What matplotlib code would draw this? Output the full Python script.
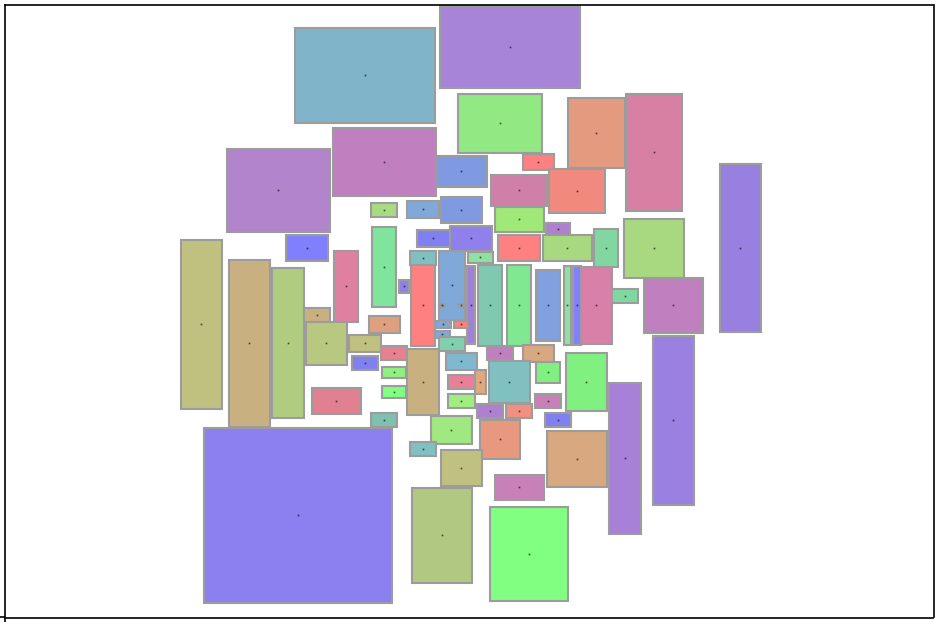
import matplotlib
matplotlib.use("Agg")
import matplotlib.pyplot as plt
import matplotlib.colors as mcolors
from matplotlib.patches import Rectangle

# rectangles (left, top, width, height in picture units)
lefts = [295, 440, 458, 568, 626, 333, 227, 436, 523, 491, 549, 720, 371, 407, 441,
         495, 286, 417, 450, 546, 498, 543, 594, 624, 372, 334, 410, 399, 411, 439,
         468, 467, 478, 507, 536, 564, 573, 581, 612, 644, 181, 229, 272, 304, 306,
         349, 352, 369, 381, 382, 382, 407, 312, 371, 439, 458, 454, 435, 435, 439,
         446, 448, 448, 475, 487, 523, 489, 536, 566, 477, 506, 535, 545, 609, 653,
         431, 410, 480, 441, 547, 495, 412, 490, 204]
tops = [28, 6, 94, 98, 94, 128, 149, 156, 154, 175, 169, 164, 203, 201, 197,
        207, 235, 230, 226, 223, 235, 235, 229, 219, 227, 251, 251, 280, 265, 251,
        252, 266, 265, 265, 270, 266, 266, 267, 289, 278, 240, 260, 268, 308, 322,
        335, 356, 316, 346, 367, 386, 349, 388, 413, 304, 304, 321, 321, 331, 337,
        353, 375, 394, 370, 346, 345, 361, 362, 353, 404, 404, 394, 413, 383, 336,
        416, 442, 420, 450, 431, 475, 488, 507, 428]
widths = [140, 140, 84, 57, 56, 103, 103, 51, 31, 56, 56, 41, 26, 32, 41,
          49, 42, 33, 42, 24, 42, 49, 24, 60, 24, 24, 26, 10, 24, 26,
          25, 8, 24, 24, 24, 7, 8, 31, 26, 59, 41, 41, 32, 26, 41,
          32, 26, 31, 26, 24, 24, 32, 49, 26, 6, 6, 14, 16, 15, 26,
          31, 27, 27, 11, 26, 31, 41, 24, 41, 26, 26, 26, 26, 32, 41,
          41, 26, 40, 41, 60, 49, 60, 78, 188]
heights = [95, 82, 59, 70, 117, 68, 83, 31, 16, 31, 44, 168, 14, 17, 26,
           25, 26, 17, 25, 12, 26, 26, 38, 59, 80, 71, 14, 13, 81, 69,
           11, 78, 81, 81, 71, 79, 79, 77, 14, 55, 169, 167, 150, 14, 43,
           17, 14, 17, 14, 11, 12, 66, 26, 14, 3, 3, 7, 7, 7, 14,
           17, 14, 14, 24, 14, 17, 42, 21, 58, 14, 14, 14, 14, 151, 169,
           28, 14, 39, 36, 56, 25, 95, 94, 175]
colors = ["#80B4C8", "#A884D8", "#92E882", "#E39A7E", "#D880A4", "#C080C0", "#B184CB",
          "#7F9AE0", "#FF8080", "#D080A8", "#F2897E", "#9880E0", "#A8DC80", "#80A8D8",
          "#7F9AE0", "#A0E878", "#8080FF", "#8080F2", "#9080EC", "#B080D0", "#FF8080",
          "#A8D880", "#80D8A0", "#A8D880", "#80E49C", "#E080A0", "#80C0C0", "#9080E8",
          "#FF8080", "#80A8D8", "#90E0A0", "#A080D8", "#80C8B0", "#80E890", "#80A0E0",
          "#90E0A0", "#8080FF", "#D880A8", "#80D8A0", "#C080C0", "#C0C080", "#C8B080",
          "#B0CC80", "#C8B080", "#B8C880", "#C0C080", "#8080F0", "#E0A080", "#E88090",
          "#90F080", "#80FF80", "#C8B080", "#E08090", "#80C0B0", "#A080C0", "#80C0C0",
          "#FF8080", "#80A8D8", "#80A8D8", "#80D0B0", "#80B8D0", "#E88098", "#A0EE80",
          "#E0A880", "#C080C0", "#D8A880", "#80C0C0", "#80F080", "#80F080", "#B080D0",
          "#F09080", "#C880B8", "#8080F0", "#A880D8", "#9A80E0", "#A0E880", "#80C0C0",
          "#E8987F", "#C0C080", "#D8A880", "#C880B8", "#B0C880", "#80FF80", "#8C80F0"]

fig = plt.figure(figsize=(9.39, 6.22), dpi=100)
ax = fig.add_axes([4.5 / 939, 4.5 / 622, 929 / 939, 612.5 / 622])

for x, y, w, h, c in zip(lefts, tops, widths, heights, colors):
    ax.add_patch(Rectangle((x, y), w, h, facecolor=c, edgecolor="#9c9c9c",
                           linewidth=1.5))
    r, g, b = mcolors.to_rgb(c)
    ax.plot(x + w / 2, y + h / 2, marker="s", markersize=1.2,
            color=(r * 0.35, g * 0.35, b * 0.35), markeredgewidth=0)

ax.set_xlim(4.5, 933.5)
ax.set_ylim(617.5, 5)
ax.set_xticks([4.5])
ax.set_yticks([617.5])
ax.set_xticklabels([])
ax.set_yticklabels([])
ax.tick_params(length=4, width=1.2)
for s in ax.spines.values():
    s.set_linewidth(1.2)

fig.savefig("out.png", dpi=100)
